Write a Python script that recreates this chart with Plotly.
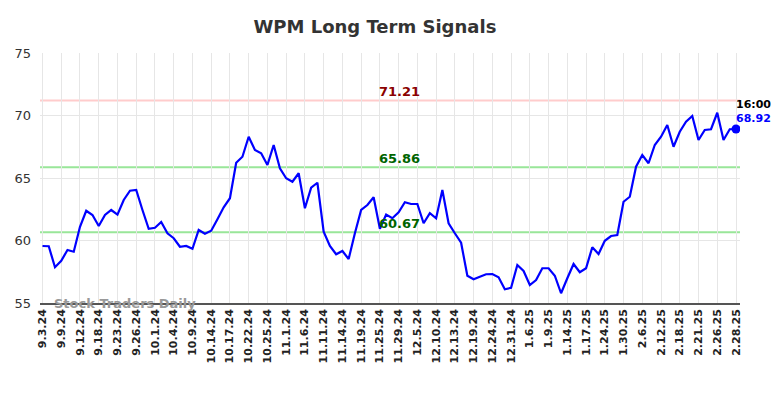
import plotly.graph_objects as go

tick_labels = ["9.3.24", "9.9.24", "9.12.24", "9.18.24", "9.23.24", "9.26.24", "10.1.24", "10.4.24",
               "10.9.24", "10.14.24", "10.17.24", "10.22.24", "10.25.24", "11.1.24", "11.6.24",
               "11.11.24", "11.14.24", "11.19.24", "11.25.24", "11.29.24", "12.5.24", "12.10.24",
               "12.13.24", "12.19.24", "12.24.24", "12.31.24", "1.6.25", "1.9.25", "1.14.25",
               "1.17.25", "1.24.25", "1.30.25", "2.6.25", "2.12.25", "2.18.25", "2.21.25",
               "2.26.25", "2.28.25"]

prices = [59.56, 59.54, 57.86, 58.38, 59.24, 59.10, 61.10, 62.38, 62.04, 61.16,
          62.04, 62.44, 62.07, 63.24, 63.98, 64.04, 62.44, 60.94, 61.02, 61.48,
          60.58, 60.18, 59.50, 59.56, 59.34, 60.84, 60.54, 60.78, 61.70, 62.66,
          63.38, 66.22, 66.70, 68.30, 67.24, 66.98, 66.04, 67.64, 65.78, 64.98,
          64.70, 65.38, 62.58, 64.22, 64.62, 60.70, 59.56, 58.90, 59.16, 58.52,
          60.58, 62.44, 62.84, 63.46, 60.94, 62.07, 61.78, 62.26, 63.06, 62.92,
          62.92, 61.38, 62.18, 61.78, 64.04, 61.38, 60.58, 59.82, 57.18, 56.90,
          57.10, 57.30, 57.32, 57.06, 56.10, 56.22, 58.04, 57.56, 56.44, 56.84,
          57.78, 57.78, 57.18, 55.78, 56.98, 58.12, 57.46, 57.78, 59.46, 58.92,
          59.98, 60.36, 60.44, 63.10, 63.50, 65.90, 66.84, 66.18, 67.64, 68.30,
          69.24, 67.50, 68.70, 69.50, 69.96, 68.04, 68.84, 68.90, 70.22, 68.04,
          68.90, 68.92]

levels = [71.21, 65.86, 60.67]
level_colors = ["#ffcccc", "#99e699", "#99e699"]
label_colors = ["#8b0000", "#006400", "#006400"]
last_time = "16:00"

x = list(range(len(prices)))
tick_step = 3
tickvals = [i * tick_step for i in range(len(tick_labels))]

fig = go.Figure()
fig.add_trace(go.Scatter(x=x, y=prices, mode="lines",
                         line=dict(color="#0000ff", width=2.2), hoverinfo="y"))
fig.add_trace(go.Scatter(x=[x[-1]], y=[prices[-1]], mode="markers",
                         marker=dict(color="#0000ff", size=9)))

for lv, c in zip(levels, level_colors):
    fig.add_shape(type="line", xref="paper", x0=0, x1=1, y0=lv, y1=lv,
                  line=dict(color=c, width=2), layer="below")

mid = (x[0] + x[-1]) / 2 + 1.6
for lv, c in zip(levels, label_colors):
    fig.add_annotation(x=mid, y=lv, text=f"{lv:.2f}", showarrow=False,
                       yanchor="bottom", yshift=-1,
                       font=dict(color=c, size=13, family="DejaVu Sans", weight="bold"))

fig.add_annotation(x=x[-1], y=prices[-1], text=f"<b>{last_time}</b>", showarrow=False,
                   xanchor="left", yanchor="bottom", xshift=-2, yshift=16,
                   font=dict(color="#000000", size=11, family="DejaVu Sans"))
fig.add_annotation(x=x[-1], y=prices[-1], text=f"<b>{prices[-1]:.2f}</b>", showarrow=False,
                   xanchor="left", yanchor="bottom", xshift=-2, yshift=2,
                   font=dict(color="#0000ff", size=11, family="DejaVu Sans"))

fig.add_annotation(xref="paper", yref="y", x=0.017, y=55, text="<b>Stock Traders Daily</b>",
                   showarrow=False, xanchor="left", yanchor="middle",
                   font=dict(color="#999999", size=13, family="DejaVu Sans"))

fig.update_layout(
    width=784, height=398,
    margin=dict(l=32, r=52, t=45, b=103),
    paper_bgcolor="white", plot_bgcolor="white",
    showlegend=False,
    title=dict(text="<b>WPM Long Term Signals</b>", x=0.468, xanchor="center",
               y=0.952, yanchor="middle",
               font=dict(size=18, color="#333333", family="DejaVu Sans")),
    xaxis=dict(range=[-0.4, len(prices) - 1 + 0.64], tickmode="array",
               tickvals=tickvals, ticktext=[f"<b>{t}</b>" for t in tick_labels],
               tickangle=-90, showgrid=True, gridcolor="#e6e6e6", gridwidth=1,
               tickfont=dict(size=11, color="#222222", family="DejaVu Sans"),
               showline=True, linecolor="#555555", linewidth=1.5, zeroline=False,
               ticks="", automargin=False),
    yaxis=dict(range=[55, 75], tickvals=[55, 60, 65, 70, 75], showgrid=True,
               gridcolor="#e6e6e6", gridwidth=1, zeroline=False,
               tickfont=dict(size=13, color="#333333", family="DejaVu Sans"),
               ticks="", ticklabelstandoff=8, automargin=False),
)

fig.write_html("out.html")
